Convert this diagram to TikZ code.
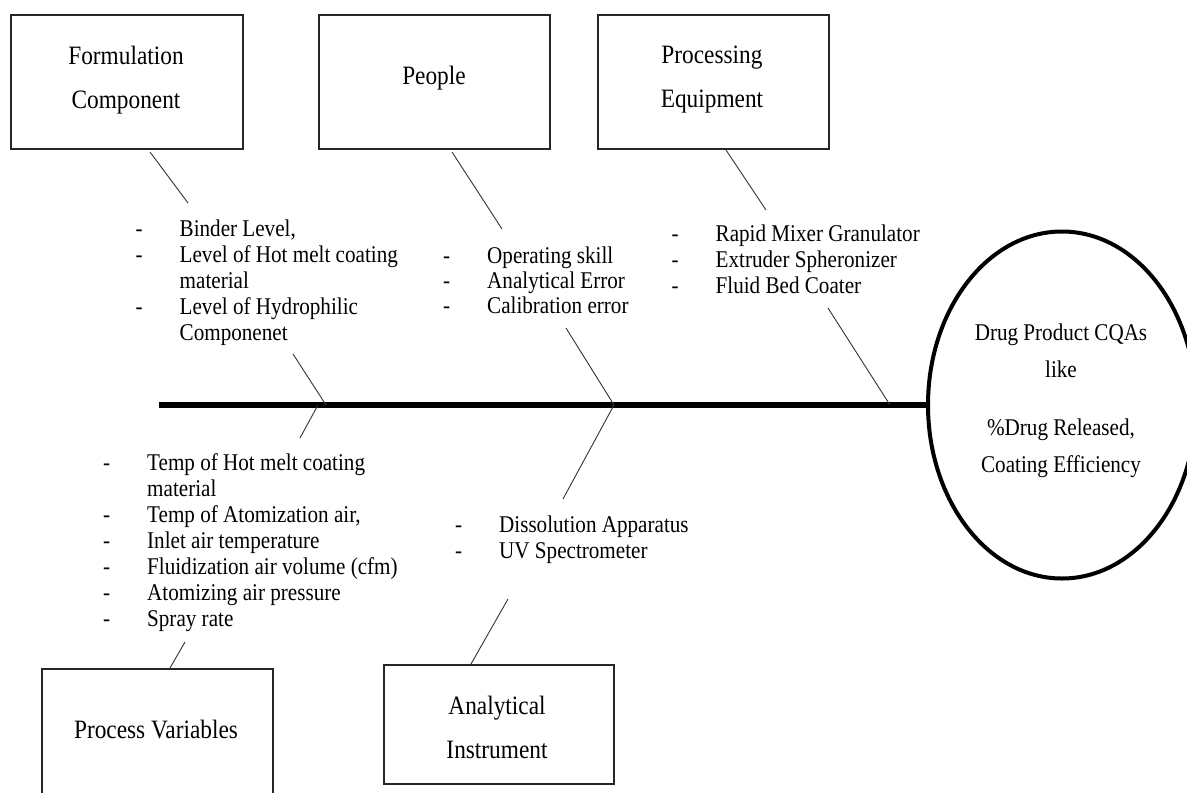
\documentclass[tikz,border=0pt]{standalone}
\usepackage{fontspec}
\setmainfont{Liberation Serif}[FakeStretch=0.88]
\usetikzlibrary{shapes.geometric}
\newcommand{\itm}[1]{\makebox[44pt][l]{-}#1}
\newcommand{\cnt}[1]{\hspace*{44pt}#1}
\begin{document}
\begin{tikzpicture}[x=1pt,y=-1pt,
  catbox/.style={draw=black!85, line width=1.8pt, inner sep=0pt, anchor=north west},
  cattext/.style={anchor=north, inner sep=0pt, align=center, font=\fontsize{26.5}{44}\selectfont},
  items/.style={anchor=north west, inner sep=0pt, align=left, font=\fontsize{24}{26}\selectfont},
  bone/.style={draw=black!80, line width=0.9pt},
  spine/.style={draw=black, line width=6pt},
  effect/.style={draw=black, line width=4pt, ellipse, inner sep=0pt}]
\clip (0,0) rectangle (1187,793);
\fill[white] (0,0) rectangle (1187,793);

% category boxes
\node[catbox, minimum width=232pt, minimum height=134pt] (form) at (10,14) {};
\node[catbox, minimum width=231pt, minimum height=134pt] (people) at (318,14) {};
\node[catbox, minimum width=231pt, minimum height=134pt] (equip) at (597,14) {};
\node[catbox, minimum width=231pt, minimum height=200pt] (procvar) at (41,668) {};
\node[catbox, minimum width=230pt, minimum height=119pt] (anal) at (383,664) {};

\node[cattext] (formt) at (126,46) {Formulation\\Component};
\node[cattext] (peoplet) at (434,66) {People};
\node[cattext] (equipt) at (712,46) {Processing\\Equipment};
\node[cattext] (procvart) at (156,720) {Process Variables};
\node[cattext] (analt) at (497,696) {Analytical\\Instrument};

% effect
\node[effect, minimum width=268pt, minimum height=347pt] (cqa) at (1062,405) {};
\node[anchor=north, inner sep=0pt, align=center, font=\fontsize{24}{37}\selectfont] (cqat) at (1061,323.5)
  {Drug Product CQAs\\like\\[21pt]\%Drug Released,\\Coating Efficiency};

% spine
\coordinate (tail) at (159,405);
\draw[spine] (tail) -- (cqa.west);

% item lists
\node[items] (formi) at (135.5,219.5) {\itm{Binder Level,}\\\itm{Level of Hot melt coating}\\\cnt{material}\\\itm{Level of Hydrophilic}\\\cnt{Componenet}};
\node[items, font=\fontsize{24}{25}\selectfont] (peoplei) at (443,246.5) {\itm{Operating skill}\\\itm{Analytical Error}\\\itm{Calibration error}};
\node[items] (equipi) at (671.5,224.5) {\itm{Rapid Mixer Granulator}\\\itm{Extruder Spheronizer}\\\itm{Fluid Bed Coater}};
\node[items] (procvari) at (103,453.5) {\itm{Temp of Hot melt coating}\\\cnt{material}\\\itm{Temp of Atomization air,}\\\itm{Inlet air temperature}\\\itm{Fluidization air volume (cfm)}\\\itm{Atomizing air pressure}\\\itm{Spray rate}};
\node[items] (anali) at (455,515.5) {\itm{Dissolution Apparatus}\\\itm{UV Spectrometer}};

% bone coordinates
\coordinate (fa) at (150,152);  \coordinate (fb) at (188,203);
\coordinate (fc) at (293,354);  \coordinate (fj) at (326,405);
\coordinate (pa) at (452,152);  \coordinate (pb) at (502,229);
\coordinate (pc) at (566,328);  \coordinate (pj) at (614,405);
\coordinate (ea) at (726,150);  \coordinate (eb) at (766,210);
\coordinate (ec) at (828,308);  \coordinate (ej) at (890,405);
\coordinate (vj) at (318,405);  \coordinate (vb) at (300,438);
\coordinate (vc) at (185,642);  \coordinate (vd) at (170,668);
\coordinate (ab) at (563,499);
\coordinate (ac) at (508,599);  \coordinate (ad) at (471,664);

\draw[bone] (fa) -- (fb);
\draw[bone] (fc) -- (fj);
\draw[bone] (pa) -- (pb);
\draw[bone] (pc) -- (pj);
\draw[bone] (ea) -- (eb);
\draw[bone] (ec) -- (ej);
\draw[bone] (vj) -- (vb);
\draw[bone] (vc) -- (vd);
\draw[bone] (pj) -- (ab);
\draw[bone] (ac) -- (ad);
\end{tikzpicture}
\end{document}
